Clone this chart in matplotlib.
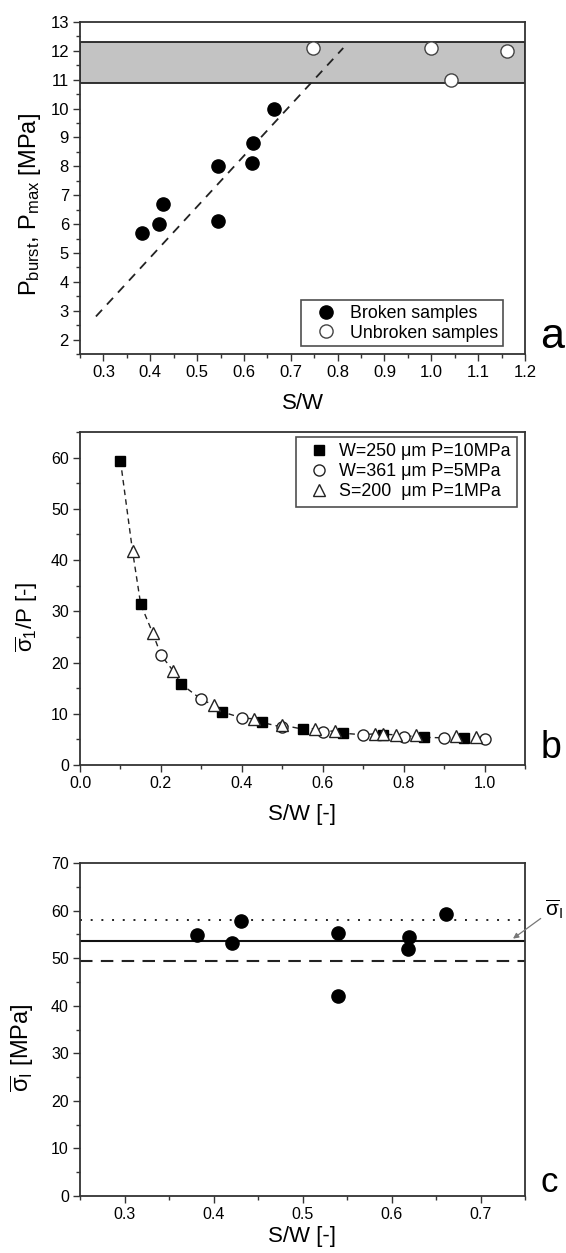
import matplotlib
matplotlib.use("Agg")
import matplotlib.pyplot as plt
from matplotlib.ticker import MultipleLocator, FormatStrFormatter
import numpy as np

plt.rcParams['font.family'] = ['Liberation Sans', 'DejaVu Sans']
plt.rcParams['mathtext.fontset'] = 'custom'
plt.rcParams['mathtext.rm'] = 'Liberation Sans'
plt.rcParams['mathtext.it'] = 'Liberation Sans'
plt.rcParams['mathtext.bf'] = 'Liberation Sans:bold'
plt.rcParams['mathtext.default'] = 'regular'

# ---------------- data ----------------
# panel a
broken_sw = [0.382, 0.418, 0.428, 0.544, 0.544, 0.618, 0.620, 0.665]
broken_p = [5.7, 6.0, 6.7, 8.0, 6.1, 8.1, 8.8, 10.0]
unbroken_sw = [0.748, 1.0, 1.042, 1.161]
unbroken_p = [12.1, 12.1, 11.0, 12.0]
fit_sw = [0.284, 0.812]
fit_p = [2.8, 12.1]
band_low, band_high = 10.9, 12.3

# panel b
sq_sw = [0.10, 0.15, 0.25, 0.35, 0.45, 0.55, 0.65, 0.75, 0.85, 0.95]
sq_val = [59.4, 31.4, 15.8, 10.4, 8.3, 7.0, 6.2, 5.8, 5.4, 5.2]
ci_sw = [0.2, 0.3, 0.4, 0.5, 0.6, 0.7, 0.8, 0.9, 1.0]
ci_val = [21.5, 12.8, 9.2, 7.4, 6.4, 5.9, 5.4, 5.3, 5.0]
tr_sw = [0.13, 0.18, 0.23, 0.33, 0.43, 0.50, 0.58, 0.63, 0.73, 0.75, 0.78, 0.83, 0.93, 0.98]
tr_val = [41.7, 25.7, 18.4, 11.7, 9.0, 7.8, 7.1, 6.7, 6.1, 6.0, 5.9, 5.8, 5.6, 5.5]
legend_b = ['W=250 \u03bcm P=10MPa', 'W=361 \u03bcm P=5MPa', 'S=200  \u03bcm P=1MPa']

# panel c
c_sw = [0.381, 0.421, 0.431, 0.540, 0.540, 0.620, 0.618, 0.661]
c_sig = [54.8, 53.1, 57.8, 55.2, 42.1, 54.4, 51.9, 59.2]
c_mean = 53.6
c_upper = 58.0
c_lower = 49.3

# ---------------- figure ----------------
W, H = 566, 1253
fig = plt.figure(figsize=(W / 100, H / 100), dpi=100)

def ax_at(top, bottom, left=80, right=525):
    return fig.add_axes([left / W, 1 - bottom / H, (right - left) / W, (bottom - top) / H])

def fig_pt(x, y):
    return (x / W, 1 - y / H)

spine_c = '#333333'

def style(ax, lsize):
    for s in ax.spines.values():
        s.set_color(spine_c)
        s.set_linewidth(1.3)
    ax.tick_params(which='both', direction='out', top=False, right=False,
                   color=spine_c, width=1.0, labelsize=lsize, pad=3)
    ax.tick_params(which='major', length=5)
    ax.tick_params(which='minor', length=3)

# ---- panel a ----
axa = ax_at(22, 354)
style(axa, 12)
axa.axhspan(band_low, band_high, facecolor='#c3c3c3', edgecolor='#222222', lw=1.3, zorder=1)
axa.plot(fit_sw, fit_p, ls=(0, (5, 4)), color='#222222', lw=1.3, zorder=2)
axa.plot(broken_sw, broken_p, 'o', ms=9.5, mfc='black', mec='black', ls='none', zorder=3,
         label='Broken samples')
axa.plot(unbroken_sw, unbroken_p, 'o', ms=9.5, mfc='white', mec='#444444', mew=1.0, ls='none',
         zorder=3, label='Unbroken samples')
axa.set_xlim(0.25, 1.2)
axa.set_ylim(1.5, 13)
axa.xaxis.set_major_locator(MultipleLocator(0.1))
axa.xaxis.set_minor_locator(MultipleLocator(0.05))
axa.xaxis.set_major_formatter(FormatStrFormatter('%.1f'))
axa.yaxis.set_major_locator(MultipleLocator(1))
axa.yaxis.set_minor_locator(MultipleLocator(0.5))
axa.set_xlabel('S/W', fontsize=16, labelpad=9)
axa.set_ylabel('P$_{burst}$, P$_{max}$ [MPa]', fontsize=17)
axa.yaxis.set_label_coords(-0.083, 0.449)
leg = axa.legend(loc='lower right', bbox_to_anchor=fig_pt(503, 346),
                 bbox_transform=fig.transFigure, fontsize=12.8, frameon=True, fancybox=False,
                 edgecolor='#222222', borderpad=0.25, handletextpad=0.25,
                 labelspacing=0.15, handlelength=2.3, borderaxespad=0.0)
leg.get_frame().set_linewidth(1.2)
fig.text(540 / W, 1 - 348 / H, 'a', fontsize=31, ha='left', va='baseline')

# ---- panel b ----
axb = ax_at(432, 765)
style(axb, 11.5)
all_x = np.array(sq_sw + ci_sw + tr_sw)
all_y = np.array(sq_val + ci_val + tr_val)
order = np.argsort(all_x)
axb.plot(all_x[order], all_y[order], ls=(0, (4, 3)), color='#222222', lw=1.0, zorder=2)
axb.plot(sq_sw, sq_val, 's', ms=7.5, mfc='black', mec='black', ls='none', zorder=3,
         label=legend_b[0])
axb.plot(ci_sw, ci_val, 'o', ms=8, mfc='white', mec='#222222', mew=1.0, ls='none', zorder=3,
         label=legend_b[1])
axb.plot(tr_sw, tr_val, '^', ms=8.5, mfc='white', mec='#222222', mew=1.0, ls='none', zorder=4,
         label=legend_b[2])
axb.set_xlim(0, 1.1)
axb.set_ylim(0, 65)
axb.xaxis.set_major_locator(MultipleLocator(0.2))
axb.xaxis.set_minor_locator(MultipleLocator(0.1))
axb.xaxis.set_major_formatter(FormatStrFormatter('%.1f'))
axb.yaxis.set_major_locator(MultipleLocator(10))
axb.yaxis.set_minor_locator(MultipleLocator(5))
axb.set_xlabel('S/W [-]', fontsize=16, labelpad=9)
axb.set_ylabel(r'$\overline{\sigma}_1$/P [-]', fontsize=16)
axb.yaxis.set_label_coords(-0.09, 0.445)
legb = axb.legend(loc='upper right', bbox_to_anchor=fig_pt(517, 437),
                  bbox_transform=fig.transFigure, fontsize=12.9, frameon=True, fancybox=False,
                  edgecolor='#222222', borderpad=0.35, handletextpad=0.17,
                  labelspacing=0.17, handlelength=1.9, borderaxespad=0.0)
legb.get_frame().set_linewidth(1.2)
fig.text(541 / W, 1 - 758 / H, 'b', fontsize=27, ha='left', va='baseline')

# ---- panel c ----
axc = ax_at(863, 1196)
style(axc, 11.5)
axc.axhline(c_upper, ls=(0, (1, 4.5)), color='#222222', lw=1.4, zorder=1)
axc.axhline(c_mean, ls='-', color='#111111', lw=1.5, zorder=1)
axc.axhline(c_lower, ls=(0, (6, 4)), color='#222222', lw=1.5, zorder=1)
axc.plot(c_sw, c_sig, 'o', ms=9.5, mfc='black', mec='black', ls='none', zorder=3)
axc.set_xlim(0.25, 0.75)
axc.set_ylim(0, 70)
axc.xaxis.set_major_locator(MultipleLocator(0.1))
axc.xaxis.set_minor_locator(MultipleLocator(0.05))
axc.xaxis.set_major_formatter(FormatStrFormatter('%.1f'))
axc.yaxis.set_major_locator(MultipleLocator(10))
axc.yaxis.set_minor_locator(MultipleLocator(5))
axc.set_xlabel('S/W [-]', fontsize=16, labelpad=3)
axc.set_ylabel(r'$\overline{\sigma}_I$ [MPa]', fontsize=17)
axc.yaxis.set_label_coords(-0.099, 0.446)
axc.annotate(r'$\overline{\sigma}_I$', xy=(0.7365, 54.1), xytext=(0.772, 60.3),
             xycoords='data', textcoords='data', fontsize=15, ha='left', va='center',
             annotation_clip=False,
             arrowprops=dict(arrowstyle='-|>', color='#777777', lw=0.9,
                             mutation_scale=8, shrinkA=1, shrinkB=0))
fig.text(541 / W, 1 - 1192 / H, 'c', fontsize=25, ha='left', va='baseline')

fig.savefig('out.png', dpi=100)
